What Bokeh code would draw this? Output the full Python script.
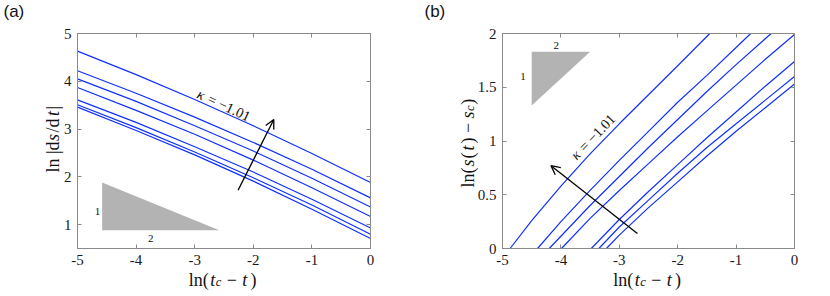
from math import cos, sin, pi
from bokeh.plotting import figure
from bokeh.models import (Range1d, FixedTicker, LinearAxis, Label, Arrow, OpenHead,
                          CustomJSTickFormatter)
from bokeh.layouts import row
from bokeh.embed import file_html
from bokeh.resources import INLINE

# ---------------- data ----------------
x_ticks = [-5, -4, -3, -2, -1, 0]
x_tick_labels = ["-5", "-4", "-3", "-2", "-1", "0"]
left_y_ticks = [1, 2, 3, 4, 5]
left_y_tick_labels = ["1", "2", "3", "4", "5"]
right_y_ticks = [0, 0.5, 1, 1.5, 2]
right_y_tick_labels = ["0", "0.5", "1", "1.5", "2"]

# panel (a): ln|ds/dt| versus ln(tc - t)
a_x = [-5, -4, -3, -2, -1, 0]
a_k1 = [4.63, 4.14, 3.62, 3.07, 2.49, 1.88]
a_k2 = [4.22, 3.75, 3.25, 2.72, 2.16, 1.56]
a_k3 = [4.05, 3.58, 3.07, 2.54, 1.97, 1.37]
a_k4 = [3.87, 3.39, 2.89, 2.35, 1.77, 1.17]
a_k5 = [3.61, 3.14, 2.63, 2.10, 1.53, 0.93]
a_k6 = [3.51, 3.03, 2.52, 1.98, 1.41, 0.80]
a_k7 = [3.46, 2.97, 2.46, 1.91, 1.32, 0.71]

# panel (b): ln(s(t) - sc) versus ln(tc - t)
b_k1_x = [-4.87, -4.5, -4.0, -3.5, -3.0, -2.5, -2.0, -1.45]
b_k1_y = [0, 0.26, 0.58, 0.88, 1.16, 1.43, 1.70, 2.0]
b_k2_x = [-4.40, -4.0, -3.5, -3.0, -2.5, -2.0, -1.5, -1.0, -0.75]
b_k2_y = [0, 0.25, 0.54, 0.82, 1.09, 1.36, 1.61, 1.87, 2.0]
b_k3_x = [-4.20, -3.5, -3.0, -2.5, -2.0, -1.5, -1.0, -0.40]
b_k3_y = [0, 0.40, 0.67, 0.94, 1.20, 1.46, 1.71, 2.0]
b_k4_x = [-3.99, -3.5, -3.0, -2.5, -2.0, -1.5, -1.0, -0.5, 0]
b_k4_y = [0, 0.28, 0.54, 0.79, 1.04, 1.28, 1.52, 1.76, 1.99]
b_k5_x = [-3.48, -3.0, -2.5, -2.0, -1.5, -1.0, -0.5, 0]
b_k5_y = [0, 0.27, 0.53, 0.78, 1.03, 1.27, 1.51, 1.74]
b_k6_x = [-3.35, -3.0, -2.5, -2.0, -1.5, -1.0, -0.5, 0]
b_k6_y = [0, 0.20, 0.45, 0.70, 0.94, 1.16, 1.38, 1.60]
b_k7_x = [-3.22, -3.0, -2.5, -2.0, -1.5, -1.0, -0.5, 0]
b_k7_y = [0, 0.125, 0.38, 0.62, 0.86, 1.09, 1.31, 1.53]

# slope triangles (annotation)
a_tri_x = [-4.58, -2.58, -4.58]
a_tri_y = [0.88, 0.88, 1.88]
b_tri_x = [-4.5, -3.5, -4.5]
b_tri_y = [1.83, 1.83, 1.33]

# ---------------- styling helpers ----------------
SERIF = "'Liberation Serif'"
SANS = "'Liberation Sans'"
AXIS_GREY = "#8a8a8a"
LINE_BLUE = "#1030ff"
TXT = "#111111"
NB = "\u00a0"  # non-collapsing space used to align the pieces of a formula


def style_axes(p, yticks, ylabels):
    bottom_axis = p.below[0]
    left_axis = p.left[0]
    p.grid.visible = False
    p.outline_line_color = AXIS_GREY
    bottom_axis.ticker = FixedTicker(ticks=x_ticks)
    bottom_axis.major_label_overrides = dict(zip(x_ticks, x_tick_labels))
    left_axis.ticker = FixedTicker(ticks=yticks)
    left_axis.major_label_overrides = dict(zip(yticks, ylabels))
    for loc, ticks in (("above", x_ticks), ("right", yticks)):
        ax = LinearAxis(ticker=FixedTicker(ticks=ticks),
                        formatter=CustomJSTickFormatter(code="return ''"),
                        major_label_standoff=0, major_label_text_font_size="1px")
        p.add_layout(ax, loc)
    for ax in p.axis:
        ax.axis_line_color = AXIS_GREY
        ax.major_tick_line_color = AXIS_GREY
        ax.major_tick_in = 4
        ax.major_tick_out = 0
        ax.minor_tick_line_color = None
        ax.major_label_text_font = SERIF
        ax.major_label_text_color = "#1a1a1a"
    for ax in (bottom_axis, left_axis):
        ax.major_label_text_font_size = "15px"
    bottom_axis.major_label_standoff = 6
    left_axis.major_label_standoff = 6


def math_text(p, x, y, pieces, angle=0.0, size=18):
    """Formula pieces positioned in canvas pixels; each lives in a side panel
    (side panels are not clipped to the plot frame)."""
    c, s = cos(angle), sin(angle)
    for txt, style, adv, drop, scale, side in pieces:
        dx = adv * c + drop * s
        dy = adv * s - drop * c
        p.add_layout(Label(x=x, y=y, x_units="canvas", y_units="canvas",
                           x_offset=dx, y_offset=dy, text=txt, angle=angle,
                           text_font=SERIF, text_font_style=style,
                           text_font_size=f"{size * scale:.1f}px",
                           text_baseline="alphabetic", text_align="left",
                           text_color=TXT), side)


def kappa_label(p, x, y, angle):
    """κ = −1.01 written along a curve, centred on a data point."""
    c, s = cos(angle), sin(angle)
    start = -28.5
    for txt, style, adv in (("κ", "italic", 0.0), ("= −1.01", "normal", 11.5)):
        a = start + adv
        p.add_layout(Label(x=x, y=y, x_offset=a * c, y_offset=a * s, text=txt,
                           angle=angle, text_align="left", text_baseline="middle",
                           text_font=SERIF, text_font_style=style,
                           text_font_size="14.5px", text_color=TXT))


def small_label(p, x, y, txt):
    p.add_layout(Label(x=x, y=y, text=txt, text_align="center",
                       text_baseline="middle", text_font=SERIF,
                       text_font_size="11px", text_color=TXT))


xlabel_pieces = [
    ("ln(" + NB * 4 + "−" + NB * 3 + ")", "normal", 0, 0, 1, "below"),
    ("t" + NB * 6 + "t", "italic", 21.5, 0, 1, "right"),
    ("c", "italic", 27.0, 2.7, 0.7, "right"),
]
a_ylabel_pieces = [
    ("ln" + NB + "|d" + NB * 2 + "/d" + NB * 2 + "|", "normal", 0, 0, 1, "left"),
    ("s" + NB * 4 + "t", "italic", 31.6, 0, 1, "left"),
]
b_ylabel_pieces = [
    ("ln(" + NB * 2 + "(" + NB * 2 + ")" + NB + "−" + NB * 4 + ")",
     "normal", 0, 0, 1, "left"),
    ("s" + NB * 2 + "t" + NB * 6 + "s", "italic", 21.0, 0, 1, "left"),
    ("c", "italic", 76.4, 2.7, 0.7, "left"),
]

# ---------------- panel (a) ----------------
pa = figure(frame_width=293, frame_height=215, x_range=Range1d(-5, 0),
            y_range=Range1d(0.5, 5), output_backend="svg", toolbar_location=None,
            min_border_left=77, min_border_right=45, min_border_top=33,
            min_border_bottom=48)
style_axes(pa, left_y_ticks, left_y_tick_labels)
pa.patch(a_tri_x, a_tri_y, fill_color="#b3b3b3", line_color=None)
for ys in (a_k1, a_k2, a_k3, a_k4, a_k5, a_k6, a_k7):
    pa.line(a_x, ys, line_color=LINE_BLUE, line_width=1.2)
pa.add_layout(Arrow(end=OpenHead(size=9, line_width=1.3, line_color="black"),
                    x_start=-2.26, y_start=1.72, x_end=-1.65, y_end=3.20,
                    line_width=1.3, line_color="black"))
kappa_label(pa, -2.50, 3.50, -0.44)
small_label(pa, -4.66, 1.27, "1")
small_label(pa, -3.75, 0.71, "2")
math_text(pa, 188.3, 279, xlabel_pieces)
math_text(pa, 52.5, 172, a_ylabel_pieces, angle=pi / 2)
pa.add_layout(Label(x=3, y=1, x_units="canvas", y_units="canvas", text="(a)",
                    text_baseline="top", text_align="left",
                    text_font=SANS, text_font_size="17px", text_color=TXT), "above")

# ---------------- panel (b) ----------------
pb = figure(frame_width=292, frame_height=215, x_range=Range1d(-5, 0),
            y_range=Range1d(0, 2), output_backend="svg", toolbar_location=None,
            min_border_left=87, min_border_right=36, min_border_top=33,
            min_border_bottom=48)
style_axes(pb, right_y_ticks, right_y_tick_labels)
pb.patch(b_tri_x, b_tri_y, fill_color="#b3b3b3", line_color=None)
for xs, ys in ((b_k1_x, b_k1_y), (b_k2_x, b_k2_y), (b_k3_x, b_k3_y),
               (b_k4_x, b_k4_y), (b_k5_x, b_k5_y), (b_k6_x, b_k6_y),
               (b_k7_x, b_k7_y)):
    pb.line(xs, ys, line_color=LINE_BLUE, line_width=1.2)
pb.add_layout(Arrow(end=OpenHead(size=9, line_width=1.3, line_color="black"),
                    x_start=-2.69, y_start=0.14, x_end=-4.17, y_end=0.77,
                    line_width=1.3, line_color="black"))
kappa_label(pb, -3.45, 1.04, 0.80)
small_label(pb, -4.65, 1.60, "1")
small_label(pb, -4.08, 1.89, "2")
math_text(pb, 197.8, 279, xlabel_pieces)
math_text(pb, 52.2, 187, b_ylabel_pieces, angle=pi / 2)
pb.add_layout(Label(x=9, y=1, x_units="canvas", y_units="canvas", text="(b)",
                    text_baseline="top", text_align="left",
                    text_font=SANS, text_font_size="17px", text_color=TXT), "above")

layout = row(pa, pb)
open("out.html", "w").write(file_html(layout, INLINE))
